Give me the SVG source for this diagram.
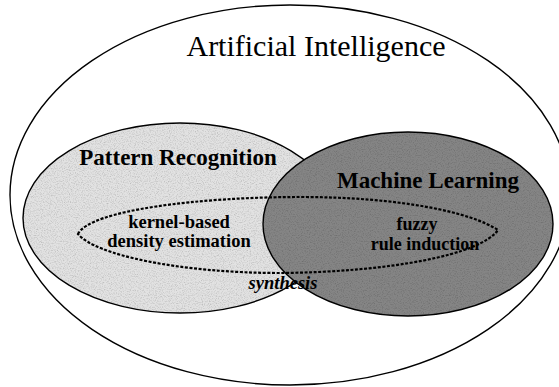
<svg xmlns="http://www.w3.org/2000/svg" width="559" height="387" viewBox="0 0 559 387">
  <style>
    .lbl { font-family: "Liberation Serif", "Times New Roman", serif; fill: #000; text-anchor: middle; }
    .b { font-weight: bold; }
    .edge { fill: none; stroke: #000; stroke-width: 1.4; }
  </style>
  <defs>
    <!-- halftone-like speckle laid over a flat fill -->
    <filter id="grain" x="0" y="0" width="100%" height="100%">
      <feTurbulence type="fractalNoise" baseFrequency="0.85" numOctaves="2" seed="7" result="n"/>
      <feColorMatrix in="n" type="matrix" values="0 0 0 0 0  0 0 0 0 0  0 0 0 0 0  -2.2 0 0 0 1.25" result="dots"/>
      <feComposite in="dots" in2="SourceGraphic" operator="in" result="clip"/>
      <feComponentTransfer in="clip" result="soft"><feFuncA type="linear" slope="0.35"/></feComponentTransfer>
      <feMerge><feMergeNode in="SourceGraphic"/><feMergeNode in="soft"/></feMerge>
    </filter>
  </defs>

  <g id="artificial-intelligence">
    <ellipse class="edge" cx="290" cy="195" rx="280" ry="190"/>
    <text class="lbl" x="316" y="56" font-size="30">Artificial Intelligence</text>
  </g>

  <g id="pattern-recognition">
    <ellipse cx="180" cy="218" rx="157" ry="95" fill="#e2e2e2" filter="url(#grain)"/>
    <ellipse class="edge" cx="180" cy="218" rx="157" ry="95"/>
    <text class="lbl b" x="178" y="165" font-size="23">Pattern Recognition</text>
  </g>

  <g id="machine-learning">
    <ellipse cx="408" cy="224" rx="145" ry="92" fill="#858585" filter="url(#grain)"/>
    <ellipse class="edge" cx="408" cy="224" rx="145" ry="92" stroke="#1a1a1a"/>
    <text class="lbl b" x="428" y="188" font-size="23">Machine Learning</text>
  </g>

  <g id="synthesis">
    <path d="M78,234 C90,210 200,197 300,197 C400,197 470,212 498,230 C480,255 390,272 280,273 C180,273 95,255 78,234 Z"
          fill="none" stroke="#000" stroke-width="2.2" stroke-dasharray="3 1.6"/>
    <text class="lbl" x="283" y="289" font-size="18.5" font-style="italic" font-weight="bold">synthesis</text>
  </g>

  <g id="kernel-density">
    <text class="lbl b" x="179" y="228" font-size="18.5">kernel-based</text>
    <text class="lbl b" x="179" y="247" font-size="18.5">density estimation</text>
  </g>

  <g id="fuzzy-rules">
    <text class="lbl b" x="417" y="230" font-size="18">fuzzy</text>
    <text class="lbl b" x="425" y="250" font-size="18">rule induction</text>
  </g>
</svg>
